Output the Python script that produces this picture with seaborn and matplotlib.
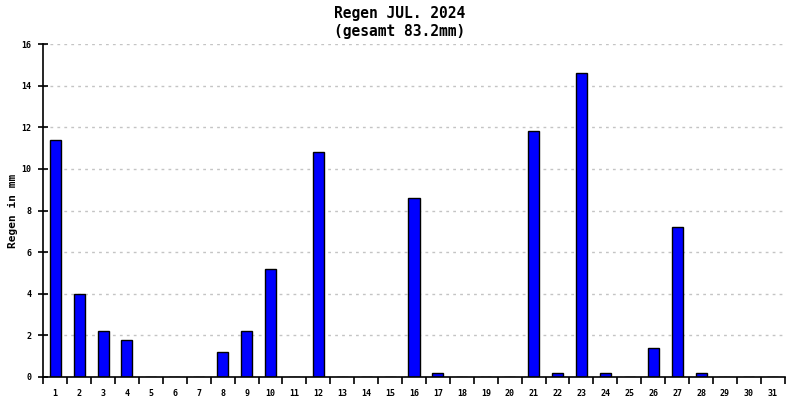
import matplotlib
matplotlib.use("Agg")
import matplotlib.pyplot as plt
import seaborn as sns
import pandas as pd
import numpy as np
from matplotlib.ticker import FixedLocator

days = [str(d) for d in range(1, 32)]
rain_mm = [11.4, 4.0, 2.2, 1.8, 0, 0, 0, 1.2, 2.2, 5.2, 0, 10.8, 0, 0, 0, 8.6,
           0.2, 0, 0, 0, 11.8, 0.2, 14.6, 0.2, 0, 1.4, 7.2, 0.2, 0, 0, 0]
y_ticks = [0, 2, 4, 6, 8, 10, 12, 14, 16]
title = "Regen JUL. 2024\n(gesamt 83.2mm)"
ylabel = "Regen in mm"

sns.set_style("white")
plt.rcParams['font.family'] = ['DejaVu Sans Mono', 'DejaVu Sans']
plt.rcParams['text.color'] = 'black'
plt.rcParams['axes.labelcolor'] = 'black'
plt.rcParams['xtick.color'] = 'black'
plt.rcParams['ytick.color'] = 'black'

df = pd.DataFrame({"day": days, "rain": rain_mm})

fig = plt.figure(figsize=(8, 4), dpi=100)
ax = fig.add_axes([0.054, 0.0575, 0.927, 0.8325])
sns.barplot(data=df, x="day", y="rain", color="#0000ff", edgecolor="black",
            linewidth=1.0, width=0.46, saturation=1, ax=ax)

ax.set_xlim(-0.5, len(days) - 0.5)
ax.set_ylim(0, 16)
ax.set_yticks(y_ticks)
ax.set_yticklabels([str(t) for t in y_ticks], fontsize=6, fontweight='bold')
ax.set_xticks(range(len(days)))
ax.set_xticklabels(days, fontsize=6, fontweight='bold')
ax.tick_params(axis='x', which='major', bottom=True, length=0, pad=9)
ax.xaxis.set_minor_locator(FixedLocator(np.arange(-0.5, len(days), 1.0)))
ax.tick_params(axis='x', which='minor', bottom=True, length=5, width=1.2,
               direction='out', color='black')
ax.tick_params(axis='y', which='major', left=True, length=7, width=1.2,
               direction='inout', color='black', pad=5)

ax.yaxis.grid(True, linestyle=(0, (2, 3)), color='#c4c4c4', linewidth=1)
ax.set_axisbelow(True)
for s in ['top', 'right']:
    ax.spines[s].set_visible(False)
for s in ['left', 'bottom']:
    ax.spines[s].set_color('black')
    ax.spines[s].set_linewidth(1.2)

ax.set_xlabel("")
ax.set_ylabel(ylabel, fontsize=8, fontweight='bold')
ax.yaxis.set_label_coords(-0.034, 0.5)
fig.suptitle(title, fontsize=10.5, fontweight='bold', y=0.985, linespacing=1.25)

fig.savefig("out.png", dpi=100)
